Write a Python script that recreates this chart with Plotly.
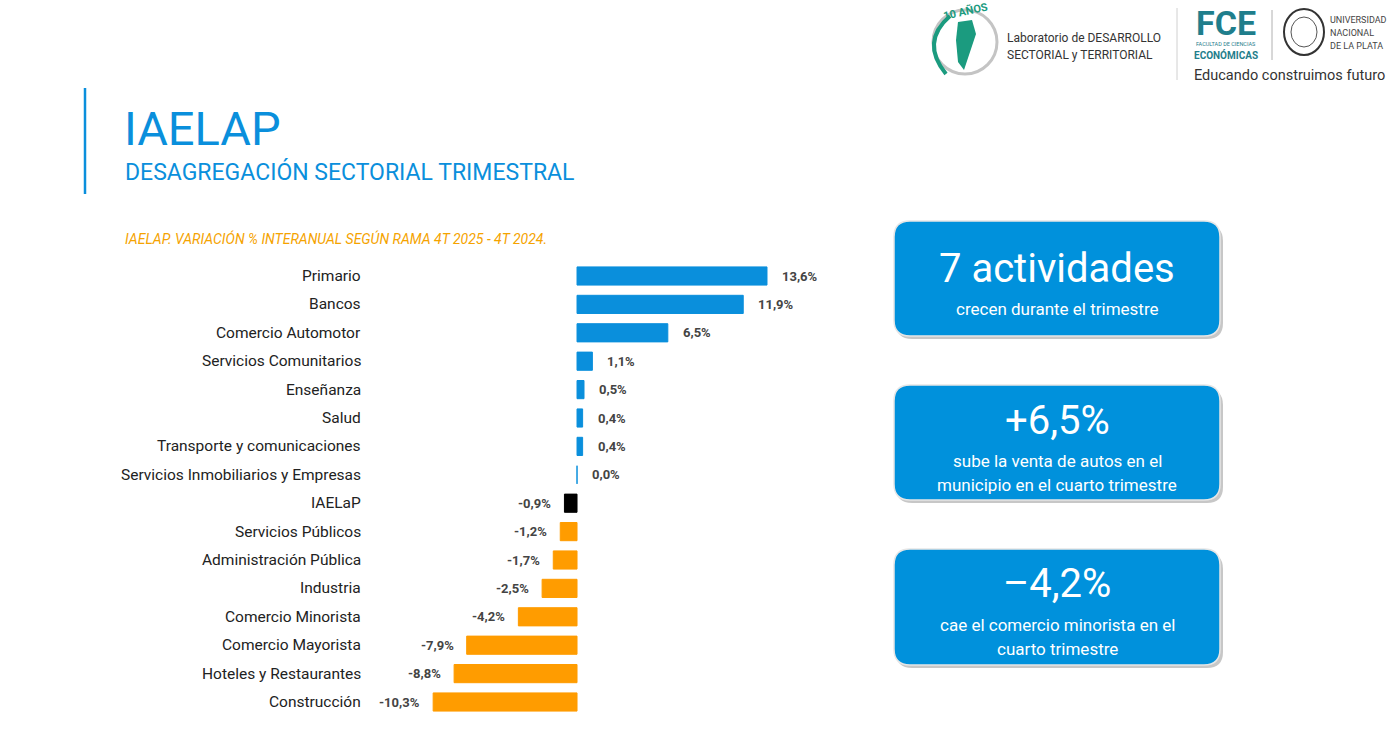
import plotly.graph_objects as go

# datos IAELAP 4T 2025 vs 4T 2024
ramas = ["Primario", "Bancos", "Comercio Automotor", "Servicios Comunitarios",
         "Enseñanza", "Salud", "Transporte y comunicaciones",
         "Servicios Inmobiliarios y Empresas", "IAELaP", "Servicios Públicos",
         "Administración Pública", "Industria", "Comercio Minorista",
         "Comercio Mayorista", "Hoteles y Restaurantes", "Construcción"]
variacion = [13.6, 11.9, 6.5, 1.1, 0.5, 0.4, 0.4, 0.0, -0.9, -1.2, -1.7,
             -2.5, -4.2, -7.9, -8.8, -10.3]

destacados = ["7 actividades", "+6,5%", "–4,2%"]
destacados_texto = [["crecen durante el trimestre"],
                    ["sube la venta de autos en el", "municipio en el cuarto trimestre"],
                    ["cae el comercio minorista en el", "cuarto trimestre"]]

AZUL = "#0A8FDC"
NARANJA = "#FF9C00"
TEAL = "#1F7E8C"
FONT = "Roboto"
W, H = 1400, 746


def px(x):
    return x / W


def py(y):
    return 1 - y / H


def fmt(v):
    return f"{v:.1f}".replace(".", ",") + "%"


def txt(x, y, text, size, color, xanchor="center", **kw):
    font = dict(family=FONT, size=size, color=color)
    return dict(x=px(x), y=py(y), xref="paper", yref="paper", text=text,
                xanchor=xanchor, yanchor="middle", showarrow=False, font=font, **kw)


colores = []
for r, v in zip(ramas, variacion):
    if r == "IAELaP":
        colores.append("#000000")
    elif v >= 0:
        colores.append(AZUL)
    else:
        colores.append(NARANJA)

fig = go.Figure()
fig.add_trace(go.Bar(x=variacion, y=ramas, orientation="h",
                     marker=dict(color=colores, line=dict(color=colores, width=1)),
                     width=0.64, hoverinfo="x+y"))

annotations = []
# etiquetas de rama
for r in ramas:
    annotations.append(dict(x=px(363), xref="paper", y=r, yref="y", text=r,
                            xanchor="right", showarrow=False,
                            font=dict(family=FONT, size=15.5, color="#222222")))
# valores
for r, v in zip(ramas, variacion):
    pos = v >= 0
    annotations.append(dict(x=v, y=r, xref="x", yref="y", text="<b>" + fmt(v) + "</b>",
                            xanchor="left" if pos else "right",
                            xshift=13 if pos else -11, showarrow=False,
                            font=dict(family=FONT, size=13, color="#444444")))

# titulos
annotations += [
    txt(122, 128, "IAELAP", 47, AZUL, xanchor="left"),
    txt(123, 172, "DESAGREGACIÓN SECTORIAL TRIMESTRAL", 23, AZUL, xanchor="left"),
    txt(123, 238, "<i>IAELAP. VARIACIÓN % INTERANUAL SEGÚN RAMA 4T 2025 - 4T 2024.</i>",
        14, "#F5A300", xanchor="left"),
]

shapes = [dict(type="line", xref="paper", yref="paper", x0=px(85), x1=px(85),
               y0=py(88), y1=py(194), line=dict(color=AZUL, width=2.5))]


def rounded(x0, y0, x1, y1, r):
    rx, ry = r / W, r / H
    a0, a1, b0, b1 = px(x0), px(x1), py(y1), py(y0)
    return (f"M {a0+rx},{b0} L {a1-rx},{b0} Q {a1},{b0} {a1},{b0+ry} "
            f"L {a1},{b1-ry} Q {a1},{b1} {a1-rx},{b1} L {a0+rx},{b1} "
            f"Q {a0},{b1} {a0},{b1-ry} L {a0},{b0+ry} Q {a0},{b0} {a0+rx},{b0} Z")


cajas = [(221, 336, 268, [309]), (385, 500, 420, [461, 485]), (549, 665, 583, [625, 649])]
for (top, bot, yb, ys), big, lineas in zip(cajas, destacados, destacados_texto):
    shapes.append(dict(type="path", xref="paper", yref="paper",
                       path=rounded(896, top + 4, 1223, bot + 3, 16),
                       fillcolor="rgba(0,0,0,0.22)", line=dict(width=0), layer="below"))
    shapes.append(dict(type="path", xref="paper", yref="paper",
                       path=rounded(894, top, 1220, bot, 16),
                       fillcolor="#0091DC", line=dict(color="#E6E6E6", width=1.5)))
    annotations.append(txt(1057, yb, big, 40, "white"))
    for y, linea in zip(ys, lineas):
        annotations.append(txt(1057, y, linea, 17, "white"))

# logos (aproximacion con texto y formas)
shapes += [
    dict(type="circle", xref="paper", yref="paper", x0=px(933), x1=px(997),
         y0=py(74), y1=py(10), line=dict(color="#C4C4C4", width=3)),
    dict(type="path", xref="paper", yref="paper",
         path=f"M {px(950)},{py(16)} Q {px(920)},{py(42)} {px(946)},{py(74)}",
         line=dict(color="#1B9B7F", width=4)),
    dict(type="path", xref="paper", yref="paper",
         path=f"M {px(958)},{py(22)} L {px(972)},{py(20)} L {px(976)},{py(34)} "
              f"L {px(970)},{py(52)} L {px(964)},{py(70)} L {px(958)},{py(62)} "
              f"L {px(956)},{py(40)} Z",
         fillcolor="#1B9B7F", line=dict(width=0)),
    dict(type="line", xref="paper", yref="paper", x0=px(1177), x1=px(1177),
         y0=py(8), y1=py(80), line=dict(color="#D0D0D0", width=1)),
    dict(type="line", xref="paper", yref="paper", x0=px(1272), x1=px(1272),
         y0=py(10), y1=py(60), line=dict(color="#B0B0B0", width=1)),
    dict(type="circle", xref="paper", yref="paper", x0=px(1284), x1=px(1324),
         y0=py(55), y1=py(9), line=dict(color="#333333", width=2)),
    dict(type="circle", xref="paper", yref="paper", x0=px(1291), x1=px(1317),
         y0=py(47), y1=py(17), line=dict(color="#555555", width=1)),
]
annotations += [
    txt(966, 11, "<b>10 AÑOS</b>", 11, "#1B9B7F", textangle=-12),
    txt(1005, 38, "Laboratorio de DESARROLLO", 12, "#333333", xanchor="left"),
    txt(1005, 55, "SECTORIAL y TERRITORIAL", 12, "#333333", xanchor="left"),
    txt(1226, 23, "<b>FCE</b>", 34, TEAL),
    txt(1226, 44, "FACULTAD DE CIENCIAS", 5.5, TEAL),
    txt(1226, 55, "<b>ECONÓMICAS</b>", 10, TEAL),
    txt(1328, 20, "UNIVERSIDAD", 9, "#444444", xanchor="left"),
    txt(1328, 33, "NACIONAL", 9, "#444444", xanchor="left"),
    txt(1328, 46, "DE LA PLATA", 9, "#444444", xanchor="left"),
    txt(1289, 76, "Educando construimos futuro", 14.5, "#333333"),
]

fig.update_layout(
    width=W, height=H,
    margin=dict(l=0, r=0, t=0, b=0),
    paper_bgcolor="white", plot_bgcolor="white",
    showlegend=False,
    xaxis=dict(domain=[px(377), px(867)], range=[-14.32, 20.76], visible=False),
    yaxis=dict(domain=[py(716.2), py(261.8)], range=[15.5, -0.5],
               categoryorder="array", categoryarray=ramas, visible=False),
    annotations=annotations,
    shapes=shapes,
)

fig.write_html("out.html", config={"displayModeBar": False},
               post_script="document.body.style.margin='0';")
